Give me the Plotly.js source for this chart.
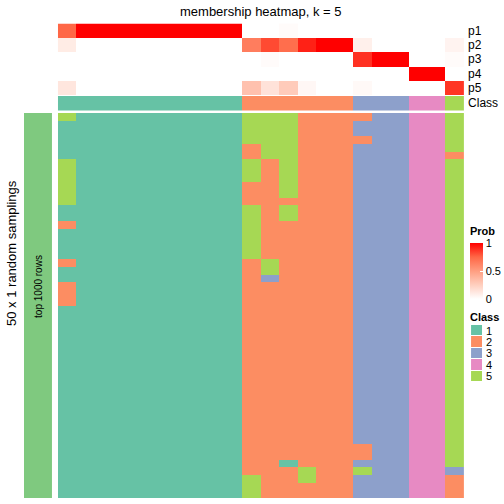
<!DOCTYPE html>
<html>
<head>
<meta charset="utf-8">
<script src="https://cdn.plot.ly/plotly-3.0.1.min.js"></script>
<style>html,body{margin:0;padding:0;background:#fff;}#chart{width:504px;height:504px;}</style>
</head>
<body>
<div id="chart"></div>
<script>
// ---------- data ----------
var rowNames = ["p1", "p2", "p3", "p4", "p5"];
var p1 = [0.75, 1, 1, 1, 1, 1, 1, 1, 1, 1, 0, 0, 0.02, 0, 0, 0, 0, 0, 0, 0, 0, 0];
var p2 = [0.10, 0, 0, 0, 0, 0, 0, 0, 0, 0, 0.65, 0.82, 0.72, 0.92, 1, 1, 0.08, 0, 0, 0, 0, 0.06];
var p3 = [0, 0, 0, 0, 0, 0, 0, 0, 0, 0, 0, 0.02, 0, 0, 0, 0, 0.88, 1, 1, 0, 0, 0.02];
var p4 = [0, 0, 0, 0, 0, 0, 0, 0, 0, 0, 0, 0, 0, 0, 0, 0, 0, 0, 0, 1, 1, 0];
var p5 = [0.13, 0, 0, 0, 0, 0, 0, 0, 0, 0, 0.32, 0.15, 0.27, 0.04, 0, 0, 0.03, 0, 0, 0, 0, 0.87];
var classRow = [1, 1, 1, 1, 1, 1, 1, 1, 1, 1, 2, 2, 2, 2, 2, 2, 3, 3, 3, 4, 4, 5];
var classLabels = ["1", "2", "3", "4", "5"];
var classColors = ["#66C2A5", "#FC8D62", "#8DA0CB", "#E78AC3", "#A6D854"];
// 50 random samplings (rows) x 22 samples (columns): class assigned
var samplings = [
  "5111111111555222233445",
  "1111111111555222333445",
  "1111111111555222333445",
  "1111111111555222233445",
  "1111111111255222333445",
  "1111111111255222333442",
  "5111111111525222333445",
  "5111111111525222333445",
  "5111111111525222333445",
  "5111111111225222333445",
  "5111111111225222333445",
  "5111111111222222333445",
  "1111111111525222333445",
  "1111111111525222333445",
  "2111111111522222333445",
  "1111111111522222333445",
  "1111111111522222333445",
  "1111111111522222333445",
  "1111111111522222333445",
  "2111111111252222333445",
  "1111111111252222333445",
  "1111111111232222333445",
  "2111111111222222333445",
  "2111111111222222333445",
  "2111111111222222333445",
  "1111111111222222333445",
  "1111111111222222333445",
  "1111111111222222333445",
  "1111111111222222333445",
  "1111111111222222333445",
  "1111111111222222333445",
  "1111111111222222333445",
  "1111111111222222333445",
  "1111111111222222333445",
  "1111111111222222333445",
  "1111111111222222333445",
  "1111111111222222333445",
  "1111111111222222333445",
  "1111111111222222333445",
  "1111111111222222333445",
  "1111111111222222333445",
  "1111111111222222333445",
  "1111111111222222333445",
  "1111111111222222233445",
  "1111111111222222233445",
  "1111111111221222333445",
  "1111111111222522533443",
  "1111111111522522333442",
  "1111111111522222333442",
  "1111111111522222333442"
];
var titleText = "membership heatmap, k = 5";
var leftTitle = "50 x 1 random samplings";
var barText = "top 1000 rows";

// ---------- build ----------
var W = 504, H = 504;
function px(x) { return x / W; }
function py(y) { return (H - y) / H; }
var font = "Liberation Sans, Arial, Helvetica, sans-serif";
var nCol = classRow.length;
var cols = [];
for (var i = 0; i < nCol; i++) cols.push(i);

var probScale = [[0, "#FFFFFF"], [0.25, "rgb(255,207,191)"], [0.5, "rgb(255,158,129)"], [0.75, "rgb(255,103,70)"], [1, "#FF0000"]];
var classScale = [];
for (var k = 0; k < classColors.length; k++) {
  classScale.push([k / classColors.length, classColors[k]]);
  classScale.push([(k + 1) / classColors.length, classColors[k]]);
}

var mainZ = samplings.map(function (s) { return s.split("").map(Number); });
var mainRows = [];
for (var r = 0; r < mainZ.length; r++) mainRows.push(r);

var traces = [
  {
    type: "heatmap", x: cols, y: rowNames, z: [p1, p2, p3, p4, p5],
    xaxis: "x", yaxis: "y", zmin: 0, zmax: 1, colorscale: probScale,
    hoverinfo: "skip",
    colorbar: {
      x: px(470), xanchor: "left", y: py(271), yanchor: "middle",
      len: 56, lenmode: "pixels", thickness: 13, thicknessmode: "pixels",
      xpad: 0, ypad: 0, outlinewidth: 0,
      tickvals: [0, 0.5, 1], ticktext: ["0", "0.5", "1"],
      ticks: "inside", ticklen: 3, tickcolor: "#FFFFFF",
      tickfont: { family: font, size: 11, color: "#000" }
    }
  },
  {
    type: "heatmap", x: cols, y: ["Class"], z: [classRow],
    xaxis: "x", yaxis: "y2", zmin: 0.5, zmax: 5.5, colorscale: classScale,
    showscale: false, hoverinfo: "skip"
  },
  {
    type: "heatmap", x: cols, y: mainRows, z: mainZ,
    xaxis: "x", yaxis: "y3", zmin: 0.5, zmax: 5.5, colorscale: classScale,
    showscale: false, hoverinfo: "skip"
  },
  {
    type: "heatmap", x: [0], y: classLabels, z: classLabels.map(function (c) { return [Number(c)]; }),
    xaxis: "x2", yaxis: "y4", zmin: 0.5, zmax: 5.5, colorscale: classScale,
    showscale: false, hoverinfo: "skip", ygap: 1
  },
  {
    type: "heatmap", x: [0], y: [0], z: [[1]],
    xaxis: "x3", yaxis: "y5", zmin: 0, zmax: 1,
    colorscale: [[0, "#7FC97F"], [1, "#7FC97F"]],
    showscale: false, hoverinfo: "skip"
  }
];

var hidden = { showgrid: false, zeroline: false, showticklabels: false, ticks: "", showline: false };
var layout = {
  width: W, height: H,
  margin: { l: 0, r: 0, t: 0, b: 0 },
  paper_bgcolor: "#FFFFFF", plot_bgcolor: "#FFFFFF",
  font: { family: font, color: "#000" },
  showlegend: false,
  xaxis: Object.assign({ domain: [px(58), px(465)], range: [-0.5, nCol - 0.5], anchor: "y3" }, hidden),
  yaxis: {
    domain: [py(95), py(23.5)], anchor: "x", side: "right", autorange: "reversed",
    showgrid: false, zeroline: false, ticks: "", ticklabelstandoff: 3,
    tickmode: "array", tickvals: rowNames,
    tickfont: { family: font, size: 12, color: "#000" }
  },
  yaxis2: {
    domain: [py(110.5), py(96)], anchor: "x", side: "right",
    showgrid: false, zeroline: false, ticks: "", ticklabelstandoff: 3,
    tickfont: { family: font, size: 12, color: "#000" }
  },
  yaxis3: Object.assign({ domain: [py(498), py(113)], anchor: "x", autorange: "reversed" }, hidden),
  xaxis2: Object.assign({ domain: [px(472), px(483)], anchor: "y4" }, hidden),
  yaxis4: {
    domain: [py(382), py(325)], anchor: "x2", side: "right", autorange: "reversed",
    showgrid: false, zeroline: false, ticks: "", ticklabelstandoff: 3,
    tickmode: "array", tickvals: classLabels, ticktext: classLabels,
    tickfont: { family: font, size: 11, color: "#000" }
  },
  xaxis3: Object.assign({ domain: [px(24), px(52)], anchor: "y5" }, hidden),
  yaxis5: Object.assign({ domain: [py(498), py(113)], anchor: "x3" }, hidden),
  annotations: [
    { text: titleText, xref: "paper", yref: "paper", x: px(261.5), y: py(11), xanchor: "center", yanchor: "middle",
      showarrow: false, font: { family: font, size: 13, color: "#000" } },
    { text: leftTitle, xref: "paper", yref: "paper", x: px(11), y: py(253), textangle: -90, xanchor: "center", yanchor: "middle",
      showarrow: false, font: { family: font, size: 13, color: "#000" } },
    { text: barText, xref: "paper", yref: "paper", x: px(38), y: py(286), textangle: -90, xanchor: "center", yanchor: "middle",
      showarrow: false, font: { family: font, size: 10, color: "#000" } },
    { text: "<b>Prob</b>", xref: "paper", yref: "paper", x: px(469), y: py(231), xanchor: "left", yanchor: "middle",
      showarrow: false, font: { family: font, size: 11, color: "#000" } },
    { text: "<b>Class</b>", xref: "paper", yref: "paper", x: px(469), y: py(317), xanchor: "left", yanchor: "middle",
      showarrow: false, font: { family: font, size: 11, color: "#000" } }
  ]
};

Plotly.newPlot("chart", traces, layout, { staticPlot: true, displayModeBar: false });
</script>
</body>
</html>
